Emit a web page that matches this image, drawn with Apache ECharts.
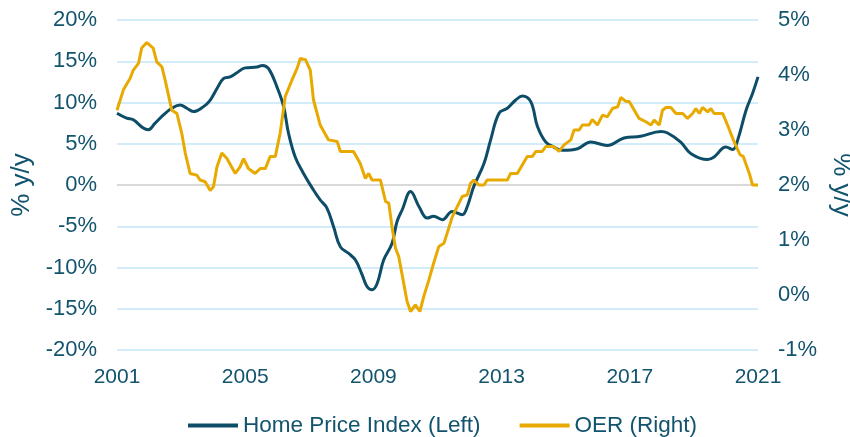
<!DOCTYPE html>
<html>
<head>
<meta charset="utf-8">
<script src="https://cdn.jsdelivr.net/npm/echarts@6/dist/echarts.min.js"></script>
<style>
  html, body { margin: 0; padding: 0; background: #fff; }
  #chart { width: 850px; height: 437px; }
</style>
</head>
<body>
<div id="chart"></div>
<script>
// Home Price Index, % y/y (left axis)
var hpiYears = [2001.00, 2001.30, 2001.51, 2001.82, 2001.98, 2002.19, 2002.45, 2002.71, 2002.97, 2003.18,
    2003.38, 2003.70, 2003.91, 2004.12, 2004.32, 2004.53, 2004.74, 2005.00, 2005.37, 2005.54,
    2005.73, 2005.99, 2006.20, 2006.35, 2006.56, 2006.82, 2007.13, 2007.34, 2007.55, 2007.76,
    2007.97, 2008.23, 2008.44, 2008.65, 2008.80, 2008.96, 2009.12, 2009.32, 2009.58, 2009.74,
    2009.90, 2010.16, 2010.42, 2010.68, 2010.88, 2011.15, 2011.46, 2011.77, 2011.93, 2012.13,
    2012.45, 2012.66, 2012.92, 2013.18, 2013.44, 2013.65, 2013.91, 2014.12, 2014.38, 2014.63,
    2014.90, 2015.37, 2015.78, 2016.30, 2016.82, 2017.34, 2017.97, 2018.18, 2018.59, 2018.91,
    2019.43, 2019.63, 2020.00, 2020.21, 2020.37, 2020.63, 2020.83, 2021.00];
var hpiValues = [8.7, 8.1, 7.9, 6.9, 6.7, 7.5, 8.5, 9.3, 9.7, 9.3,
    8.9, 9.5, 10.3, 11.7, 12.9, 13.1, 13.6, 14.2, 14.3, 14.5,
    14.1, 11.9, 9.5, 6.3, 3.4, 1.4, -0.6, -1.8, -2.8, -5.1,
    -7.5, -8.3, -9.1, -10.9, -12.3, -12.7, -11.9, -9.1, -7.1, -4.4,
    -3.0, -0.8, -2.6, -4.0, -3.8, -4.2, -3.2, -3.6, -2.6, -0.2,
    2.6, 5.5, 8.7, 9.3, 10.3, 10.8, 10.1, 7.1, 5.2, 4.6,
    4.2, 4.4, 5.2, 4.8, 5.7, 5.9, 6.5, 6.3, 5.2, 3.8,
    3.1, 3.4, 4.6, 4.3, 5.5, 9.1, 11.1, 13.1];

// OER, % y/y (right axis)
var oerYears = [2001.00, 2001.20, 2001.41, 2001.51, 2001.67, 2001.77, 2001.93, 2002.13, 2002.24, 2002.40,
    2002.50, 2002.71, 2002.87, 2003.02, 2003.13, 2003.28, 2003.49, 2003.59, 2003.75, 2003.91,
    2004.01, 2004.12, 2004.27, 2004.43, 2004.69, 2004.84, 2004.95, 2005.10, 2005.31, 2005.47,
    2005.63, 2005.78, 2005.94, 2006.09, 2006.25, 2006.46, 2006.62, 2006.72, 2006.88, 2007.03,
    2007.13, 2007.34, 2007.60, 2007.87, 2007.97, 2008.38, 2008.59, 2008.75, 2008.85, 2008.96,
    2009.22, 2009.38, 2009.48, 2009.58, 2009.69, 2009.79, 2009.90, 2010.05, 2010.16, 2010.31,
    2010.45, 2010.57, 2010.73, 2010.88, 2011.04, 2011.20, 2011.30, 2011.46, 2011.67, 2011.77,
    2011.93, 2012.03, 2012.13, 2012.29, 2012.45, 2012.55, 2013.18, 2013.28, 2013.49, 2013.80,
    2013.96, 2014.07, 2014.27, 2014.38, 2014.63, 2014.79, 2014.95, 2015.16, 2015.26, 2015.42,
    2015.52, 2015.73, 2015.83, 2015.99, 2016.15, 2016.30, 2016.46, 2016.62, 2016.72, 2016.88,
    2016.98, 2017.14, 2017.29, 2017.50, 2017.66, 2017.76, 2017.92, 2018.02, 2018.13, 2018.28,
    2018.44, 2018.65, 2018.80, 2018.96, 2019.06, 2019.17, 2019.27, 2019.43, 2019.53, 2019.63,
    2019.90, 2020.05, 2020.23, 2020.44, 2020.54, 2020.73, 2020.83, 2021.00];
var oerValues = [3.36, 3.73, 3.94, 4.09, 4.21, 4.49, 4.59, 4.49, 4.24, 4.15,
    3.91, 3.36, 3.30, 2.94, 2.58, 2.21, 2.18, 2.09, 2.06, 1.90,
    1.97, 2.33, 2.58, 2.48, 2.21, 2.33, 2.48, 2.30, 2.21, 2.30,
    2.30, 2.52, 2.52, 2.94, 3.61, 3.91, 4.12, 4.30, 4.28, 4.09,
    3.55, 3.09, 2.82, 2.79, 2.61, 2.61, 2.39, 2.12, 2.21, 2.09,
    2.09, 1.70, 1.67, 1.24, 0.85, 0.70, 0.36, -0.12, -0.30, -0.18,
    -0.30, -0.03, 0.27, 0.58, 0.88, 0.94, 1.12, 1.42, 1.67, 1.79,
    1.82, 2.03, 2.09, 2.00, 2.00, 2.09, 2.09, 2.21, 2.21, 2.52,
    2.52, 2.61, 2.61, 2.70, 2.70, 2.61, 2.73, 2.82, 3.00, 3.00,
    3.09, 3.09, 3.19, 3.09, 3.27, 3.24, 3.39, 3.42, 3.59, 3.52,
    3.52, 3.36, 3.21, 3.15, 3.09, 3.18, 3.09, 3.36, 3.41, 3.41,
    3.30, 3.30, 3.21, 3.30, 3.39, 3.30, 3.41, 3.33, 3.39, 3.30,
    3.30, 3.09, 2.82, 2.55, 2.52, 2.21, 2.00, 2.00];

var seriesNames = ['Home Price Index (Left)', 'OER (Right)'];

var textColor = '#12536d';
var gridBlue = '#d3ecfa';
var zeroGray = '#d9d9d9';
var font = 'Liberation Sans, Arial, sans-serif';

function pairs(xs, ys) {
    return xs.map(function (x, i) { return [x, ys[i]]; });
}

var chart = echarts.init(document.getElementById('chart'));
var option = {
    animation: false,
    grid: { left: 117, right: 92, top: 20, bottom: 87, outerBoundsMode: 'none' },
    legend: {
        left: 183,
        top: 409,
        itemGap: 39,
        itemWidth: 50,
        itemHeight: 4,
        icon: 'rect',
        textStyle: { color: textColor, fontSize: 22.5, fontFamily: font },
        data: seriesNames
    },
    xAxis: {
        type: 'value',
        min: 2001,
        max: 2021,
        interval: 4,
        axisLine: { show: false },
        axisTick: { show: false },
        splitLine: { show: false },
        axisLabel: {
            color: textColor, fontSize: 21, fontFamily: font, margin: 17,
            formatter: function (v) { return String(v); }
        }
    },
    yAxis: [{
        type: 'value',
        min: -20,
        max: 20,
        interval: 5,
        name: '% y/y',
        nameLocation: 'middle',
        nameGap: 71,
        nameTextStyle: { color: textColor, fontSize: 26, fontFamily: font },
        axisLine: { show: false },
        axisTick: { show: false },
        axisLabel: {
            color: textColor, fontSize: 22, fontFamily: font, margin: 20,
            formatter: '{value}%'
        },
        splitLine: {
            lineStyle: {
                width: 2,
                color: [gridBlue, gridBlue, gridBlue, gridBlue, zeroGray, gridBlue, gridBlue, gridBlue, gridBlue]
            }
        }
    }, {
        type: 'value',
        min: -1,
        max: 5,
        interval: 1,
        name: '% y/y',
        nameLocation: 'middle',
        nameGap: 63,
        nameRotate: -90,
        nameTextStyle: { color: textColor, fontSize: 26, fontFamily: font },
        axisLine: { show: false },
        axisTick: { show: false },
        splitLine: { show: false },
        axisLabel: {
            color: textColor, fontSize: 22, fontFamily: font, margin: 20,
            formatter: '{value}%'
        }
    }],
    series: [{
        name: seriesNames[0],
        type: 'line',
        yAxisIndex: 0,
        showSymbol: false,
        smooth: 0.4,
        color: '#0d4d68',
        lineStyle: { width: 3 },
        data: pairs(hpiYears, hpiValues)
    }, {
        name: seriesNames[1],
        type: 'line',
        yAxisIndex: 1,
        showSymbol: false,
        color: '#e8a900',
        lineStyle: { width: 3 },
        data: pairs(oerYears, oerValues)
    }]
};
chart.setOption(option);
</script>
</body>
</html>
